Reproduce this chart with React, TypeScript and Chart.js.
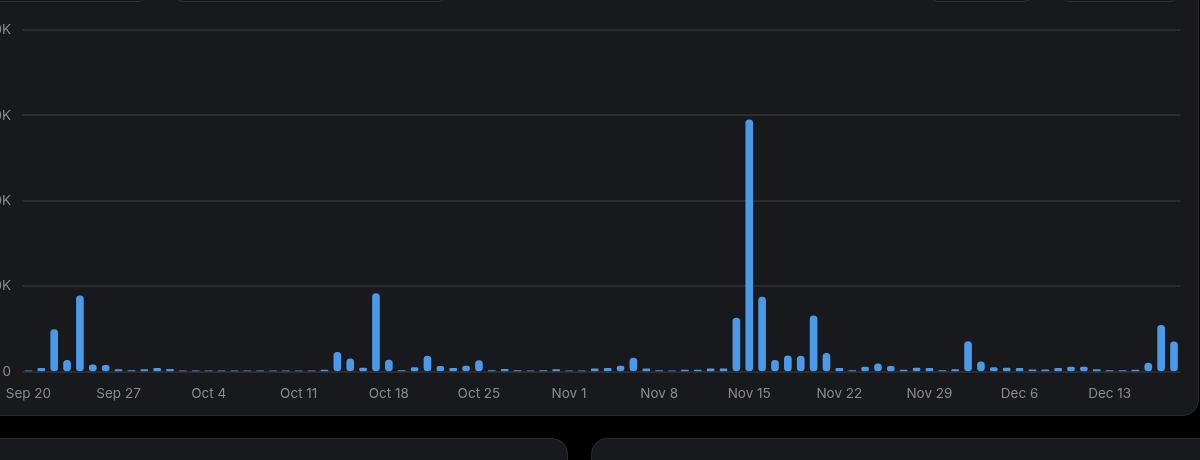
import React, { useEffect, useRef } from "react";
import { Chart, registerables } from "chart.js";

Chart.register(...registerables);

const dayLabels: string[] = [
  "Sep 20", "Sep 21", "Sep 22", "Sep 23", "Sep 24", "Sep 25", "Sep 26", "Sep 27", "Sep 28", "Sep 29", "Sep 30",
  "Oct 1", "Oct 2", "Oct 3", "Oct 4", "Oct 5", "Oct 6", "Oct 7", "Oct 8", "Oct 9", "Oct 10", "Oct 11",
  "Oct 12", "Oct 13", "Oct 14", "Oct 15", "Oct 16", "Oct 17", "Oct 18", "Oct 19", "Oct 20", "Oct 21",
  "Oct 22", "Oct 23", "Oct 24", "Oct 25", "Oct 26", "Oct 27", "Oct 28", "Oct 29", "Oct 30", "Oct 31",
  "Nov 1", "Nov 2", "Nov 3", "Nov 4", "Nov 5", "Nov 6", "Nov 7", "Nov 8", "Nov 9", "Nov 10",
  "Nov 11", "Nov 12", "Nov 13", "Nov 14", "Nov 15", "Nov 16", "Nov 17", "Nov 18", "Nov 19", "Nov 20",
  "Nov 21", "Nov 22", "Nov 23", "Nov 24", "Nov 25", "Nov 26", "Nov 27", "Nov 28", "Nov 29", "Nov 30",
  "Dec 1", "Dec 2", "Dec 3", "Dec 4", "Dec 5", "Dec 6", "Dec 7", "Dec 8", "Dec 9", "Dec 10",
  "Dec 11", "Dec 12", "Dec 13", "Dec 14", "Dec 15", "Dec 16", "Dec 17", "Dec 18",
];

const valuesSepOct: number[] = [
  100, 400, 4950, 1330, 8900, 820, 750, 270, 150, 270, 400, 300, 120, 100, 100, 100, 100, 100, 100, 100, 100, 100,
];
const valuesOctNov: number[] = [
  100, 200, 2280, 1530, 430, 9150, 1370, 150, 500, 1850, 630, 400, 670, 1300, 150, 300, 150, 100, 150, 270, 100, 100, 350,
];
const valuesNov: number[] = [
  400, 670, 1600, 350, 150, 100, 200, 200, 350, 350, 6300, 29500, 8750, 1330, 1880, 1850, 6560, 2160, 400, 150, 550, 940, 630,
];
const valuesNovDec: number[] = [
  200, 430, 400, 150, 270, 3530, 1180, 500, 430, 400, 240, 240, 400, 550, 550, 270, 150, 150, 200, 1020, 5450, 3500,
];

const dailyValues: number[] = [...valuesSepOct, ...valuesOctNov, ...valuesNov, ...valuesNovDec];

const yTickValues: number[] = [0, 10000, 20000, 30000, 40000];
const labelEvery = 7;

const PANEL_BG = "#18191c";
const PANEL_BORDER = "#2a2b2f";

export default function App() {
  const canvasRef = useRef<HTMLCanvasElement | null>(null);

  useEffect(() => {
    document.body.style.margin = "0";
    document.body.style.background = "#000";
    const canvas = canvasRef.current;
    if (!canvas) return;
    const chart = new Chart(canvas, {
      type: "bar",
      data: {
        labels: dayLabels,
        datasets: [
          {
            data: dailyValues,
            backgroundColor: "#4a9ae9",
            borderRadius: 4,
            borderSkipped: false,
            barThickness: 7,
          },
        ],
      },
      options: {
        animation: false,
        responsive: false,
        maintainAspectRatio: false,
        layout: { padding: { top: 30, bottom: 10, left: 0, right: 0 } },
        plugins: { legend: { display: false }, tooltip: { enabled: false } },
        scales: {
          x: {
            grid: { display: false, drawTicks: false },
            border: { display: false },
            ticks: {
              autoSkip: false,
              maxRotation: 0,
              minRotation: 0,
              padding: 14,
              color: "#8a8b90",
              font: { family: "Inter", size: 13.5 },
              callback: (_v: any, i: number) => (i % labelEvery === 0 ? dayLabels[i] : ""),
            },
          },
          y: {
            min: 0,
            max: 40000,
            afterFit: (scale: any) => {
              scale.width = 62;
            },
            afterBuildTicks: (scale: any) => {
              scale.ticks = yTickValues.map((v) => ({ value: v }));
            },
            grid: { color: "#2b2c30", lineWidth: 2, drawTicks: false },
            border: { display: false },
            ticks: {
              padding: 11,
              color: "#8a8b90",
              font: { family: "Inter", size: 13.5 },
              callback: (v: any) => (Number(v) === 0 ? "0" : Number(v) / 1000 + "K"),
            },
          },
        },
      },
    });
    return () => chart.destroy();
  }, []);

  const btn = (left: number, width: number): React.CSSProperties => ({
    position: "absolute",
    top: -30,
    left,
    width,
    height: 32,
    boxSizing: "border-box",
    border: "1px solid #2e2f33",
    borderRadius: 8,
    background: PANEL_BG,
  });

  return (
    <div
      style={{
        position: "fixed",
        left: 0,
        top: 0,
        width: 1200,
        height: 460,
        overflow: "hidden",
        background: "#000",
      }}
    >
      <div
        style={{
          position: "absolute",
          left: -30,
          top: -30,
          width: 1229,
          height: 446,
          boxSizing: "border-box",
          background: PANEL_BG,
          border: `1px solid ${PANEL_BORDER}`,
          borderRadius: 16,
        }}
      />
      <div style={btn(-20, 167)} />
      <div style={btn(175, 272)} />
      <div style={btn(930, 102)} />
      <div style={btn(1061, 117)} />
      <canvas
        ref={canvasRef}
        width={1228}
        height={426}
        style={{ position: "absolute", left: -40, top: 0, width: 1228, height: 426 }}
      />
      <div
        style={{
          position: "absolute",
          left: -30,
          top: 438,
          width: 598,
          height: 60,
          boxSizing: "border-box",
          background: PANEL_BG,
          border: `1px solid ${PANEL_BORDER}`,
          borderRadius: 16,
        }}
      />
      <div
        style={{
          position: "absolute",
          left: 591,
          top: 438,
          width: 640,
          height: 60,
          boxSizing: "border-box",
          background: PANEL_BG,
          border: `1px solid ${PANEL_BORDER}`,
          borderRadius: 16,
        }}
      />
    </div>
  );
}
